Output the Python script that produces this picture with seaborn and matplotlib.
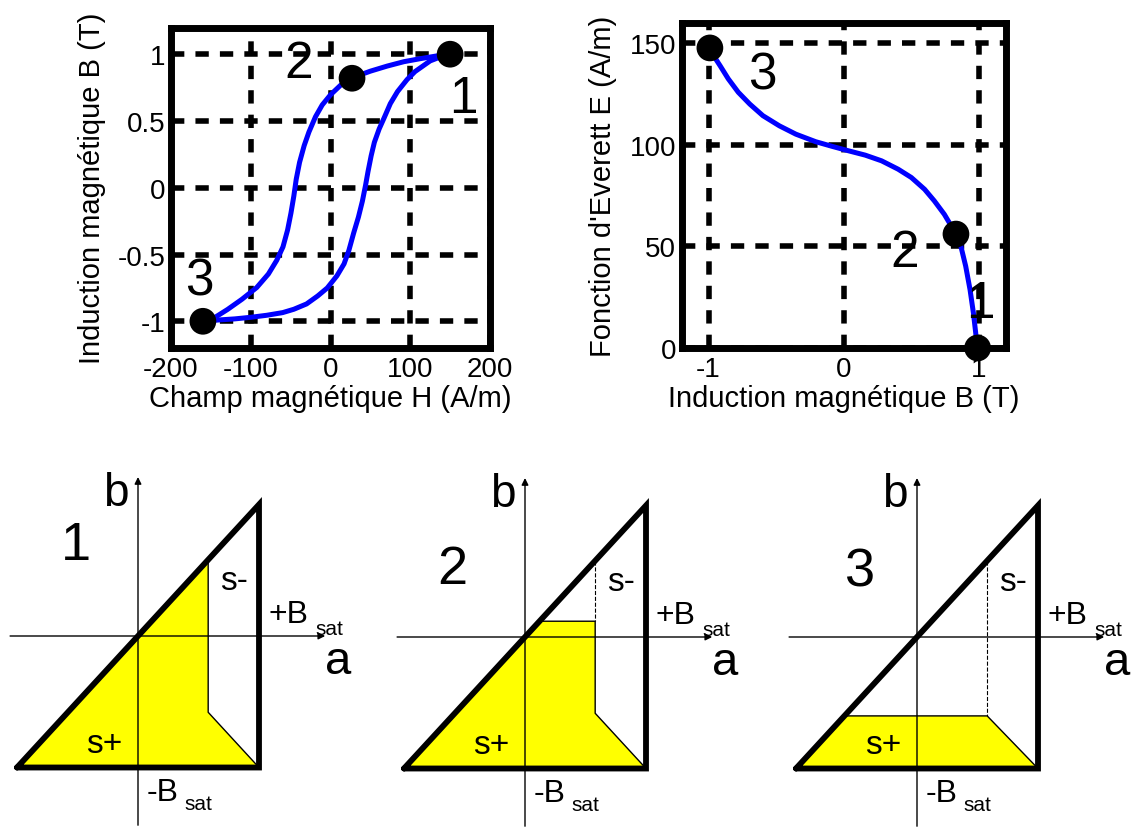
import numpy as np
import matplotlib
matplotlib.use("Agg")
import matplotlib.pyplot as plt
import seaborn as sns

# hysteresis loop
H_desc = [150, 133, 113, 92, 71, 50, 27, 12.5, 0, -10.4, -18.8, -27, -33, -38.8, -43, -46,
          -49.6, -53.8, -59.6, -67.5, -77.9, -92.5, -111, -129, -146, -160]
B_desc = [1.0, 0.987, 0.967, 0.944, 0.911, 0.873, 0.823, 0.767, 0.696, 0.62, 0.532, 0.418,
          0.316, 0.19, 0.063, -0.063, -0.19, -0.316, -0.443, -0.544, -0.646, -0.747, -0.835,
          -0.911, -0.975, -1.0]
H_asc = [-160, -140, -120, -100, -80, -60, -46, -30, -16, -4, 8, 17, 23, 29, 35, 40, 44, 47,
         51, 55, 61, 67, 75, 84, 96, 106, 125, 138, 150]
B_asc = [-1.0, -0.99, -0.982, -0.97, -0.955, -0.935, -0.91, -0.87, -0.81, -0.75, -0.66, -0.57,
         -0.47, -0.34, -0.22, -0.1, 0.02, 0.12, 0.24, 0.34, 0.44, 0.52, 0.63, 0.72, 0.81, 0.87,
         0.95, 0.98, 1.0]
H_pts = [150, 27, -160]
B_pts = [1.0, 0.82, -1.0]

# Everett function
B_ev = [-0.963, -0.915, -0.854, -0.78, -0.695, -0.598, -0.476, -0.354, -0.207, -0.085, 0.037,
        0.159, 0.28, 0.402, 0.5, 0.598, 0.67, 0.744, 0.817, 0.866, 0.902, 0.934, 0.959, 0.976,
        0.985]
E_ev = [143.7, 138.8, 132.3, 125.7, 119.9, 114.2, 109.2, 105.1, 101.4, 99.1, 96.9, 94.8, 92.0,
        87.9, 83.8, 78.0, 72.3, 65.7, 57.5, 50.1, 40.2, 28.7, 17.2, 7.4, 0.8]
Bev_pts = [0.99, 0.83, -0.99]
E_pts = [0.0, 56.0, 147.5]
pt_labels = ["1", "2", "3"]

h_ticks = [-200, -100, 0, 100, 200]
h_ticklabels = ["-200", "-100", "0", "100", "200"]
b_ticks = [-1, -0.5, 0, 0.5, 1]
b_ticklabels = ["-1", "-0.5", "0", "0.5", "1"]
bev_ticks = [-1, 0, 1]
bev_ticklabels = ["-1", "0", "1"]
e_ticks = [0, 50, 100, 150]
e_ticklabels = ["0", "50", "100", "150"]

# Preisach plane: switching field alpha, yellow (s+) regions per state
alpha = 0.58
tri_a = [-1, 1, 1, -1]
tri_b = [-1, 1, -1, -1]
splus_a = [
    [-1, alpha, alpha, 1],
    [-1, 0.12, alpha, alpha, 1],
    [-1, -0.6, alpha, 1],
]
splus_b = [
    [-1, alpha, -alpha, -1],
    [-1, 0.12, 0.12, -alpha, -1],
    [-1, -0.6, -0.6, -1],
]

sns.set_style("white")
plt.rcParams["font.family"] = ["Liberation Sans", "DejaVu Sans"]
plt.rcParams["axes.unicode_minus"] = False
for key in ["text.color", "axes.labelcolor", "xtick.color", "ytick.color"]:
    plt.rcParams[key] = "black"

W, Hh = 1131, 829
fig = plt.figure(figsize=(W / 100, Hh / 100), dpi=100)


def px_axes(x0, y0, x1, y1):
    return fig.add_axes([x0 / W, 1 - y1 / Hh, (x1 - x0) / W, (y1 - y0) / Hh])


grid_ls = (0, (2.4, 2.0))


def style_top(ax):
    for sp in ax.spines.values():
        sp.set_linewidth(5)
        sp.set_color("black")
        sp.set_visible(True)
    ax.grid(True, color="black", lw=4, ls=grid_ls)
    ax.tick_params(length=0, labelsize=20)
    ax.tick_params(axis="x", pad=6)
    ax.tick_params(axis="y", pad=4)


# top left: hysteresis
ax1 = px_axes(171, 28.5, 490, 349)
sns.lineplot(x=H_desc, y=B_desc, sort=False, estimator=None, color="blue", lw=3.6, ax=ax1)
sns.lineplot(x=H_asc, y=B_asc, sort=False, estimator=None, color="blue", lw=3.6, ax=ax1)
sns.scatterplot(x=H_pts, y=B_pts, s=370, color="black", edgecolor="none", zorder=5, ax=ax1)
ax1.set_xlim(-200, 200)
ax1.set_ylim(-1.2, 1.2)
ax1.set_xticks(h_ticks, h_ticklabels)
ax1.set_yticks(b_ticks, b_ticklabels)
style_top(ax1)
ax1.set_xlabel("Champ magnétique H (A/m)", fontsize=21)
ax1.set_ylabel("Induction magnétique B (T)", fontsize=21)
ax1.xaxis.set_label_coords(0.5, -0.112)
ax1.yaxis.set_label_coords(-0.205, 0.5)
for (dx, dy), lab in zip([(166, 0.67), (-40, 0.93), (-165, -0.7)], pt_labels):
    ax1.text(dx, dy, lab, fontsize=37, ha="center", va="center")

# top right: Everett function
ax2 = px_axes(681.5, 23.5, 1006, 349)
sns.lineplot(x=B_ev, y=E_ev, sort=False, estimator=None, color="blue", lw=3.6, ax=ax2)
sns.scatterplot(x=Bev_pts, y=E_pts, s=370, color="black", edgecolor="none", zorder=5,
                clip_on=False, ax=ax2)
ax2.set_xlim(-1.2, 1.2)
ax2.set_ylim(0, 160)
ax2.set_xticks(bev_ticks, bev_ticklabels)
ax2.set_yticks(e_ticks, e_ticklabels)
style_top(ax2)
ax2.set_xlabel("Induction magnétique B (T)", fontsize=21)
ax2.set_ylabel("Fonction d'Everett E (A/m)", fontsize=21)
ax2.xaxis.set_label_coords(0.5, -0.11)
ax2.yaxis.set_label_coords(-0.2, 0.5)
for (dx, dy), lab in zip([(1.01, 22), (0.45, 47), (-0.6, 134)], pt_labels):
    ax2.text(dx, dy, lab, fontsize=37, ha="center", va="center")

# bottom: Preisach triangles
ux, uy = 121, 131.5
origins = [(138, 637), (525, 638), (917, 638)]
num_pos = [(-0.51, 0.69), (-0.6, 0.52), (-0.47, 0.5)]
for i, (ox, oy) in enumerate(origins):
    ax = px_axes(ox - 1.12 * ux, oy - 1.3 * uy, ox + 1.78 * ux, oy + 1.46 * uy)
    ax.set_xlim(-1.12, 1.78)
    ax.set_ylim(-1.46, 1.3)
    ax.axis("off")
    ax.fill(splus_a[i], splus_b[i], color="yellow", lw=0, zorder=1)
    # thin edges of the s+ region and dashed memory line
    if i == 0:
        ax.plot([alpha, alpha, 1], [alpha, -alpha, -1], color="black", lw=1, zorder=2)
    elif i == 1:
        ax.plot([alpha, alpha], [alpha, 0.12], color="black", lw=0.8, ls="--", zorder=2)
        ax.plot([0.12, alpha, alpha, 1], [0.12, 0.12, -alpha, -1], color="black", lw=1, zorder=2)
    else:
        ax.plot([alpha, alpha], [alpha, -0.6], color="black", lw=0.8, ls="--", zorder=2)
        ax.plot([-0.6, alpha, 1], [-0.6, -0.6, -1], color="black", lw=1, zorder=2)
    # axes arrows
    ax.annotate("", xy=(1.57, 0), xytext=(-1.08, 0),
                arrowprops=dict(arrowstyle="-|>", lw=1, color="black", mutation_scale=10),
                zorder=3)
    ax.annotate("", xy=(0, 1.23), xytext=(0, -1.46),
                arrowprops=dict(arrowstyle="-|>", lw=1, color="black", mutation_scale=10),
                zorder=3)
    ax.plot(tri_a, tri_b, color="black", lw=4.2, zorder=4, solid_joinstyle="miter")
    ax.text(-0.18, 1.09, "b", fontsize=33, ha="center", va="center")
    ax.text(1.65, -0.19, "a", fontsize=34, ha="center", va="center")
    ax.text(*num_pos[i], str(i + 1), fontsize=39, ha="center", va="center")
    ax.text(0.79, 0.42, "s-", fontsize=24, ha="center", va="center")
    ax.text(-0.28, -0.82, "s+", fontsize=24, ha="center", va="center")
    ax.text(1.24, 0.17, "+B", fontsize=23, ha="center", va="center")
    ax.text(1.58, 0.06, "sat", fontsize=15, ha="center", va="center")
    ax.text(0.2, -1.19, "-B", fontsize=23, ha="center", va="center")
    ax.text(0.5, -1.27, "sat", fontsize=15, ha="center", va="center")

fig.savefig("out.png", dpi=100)
